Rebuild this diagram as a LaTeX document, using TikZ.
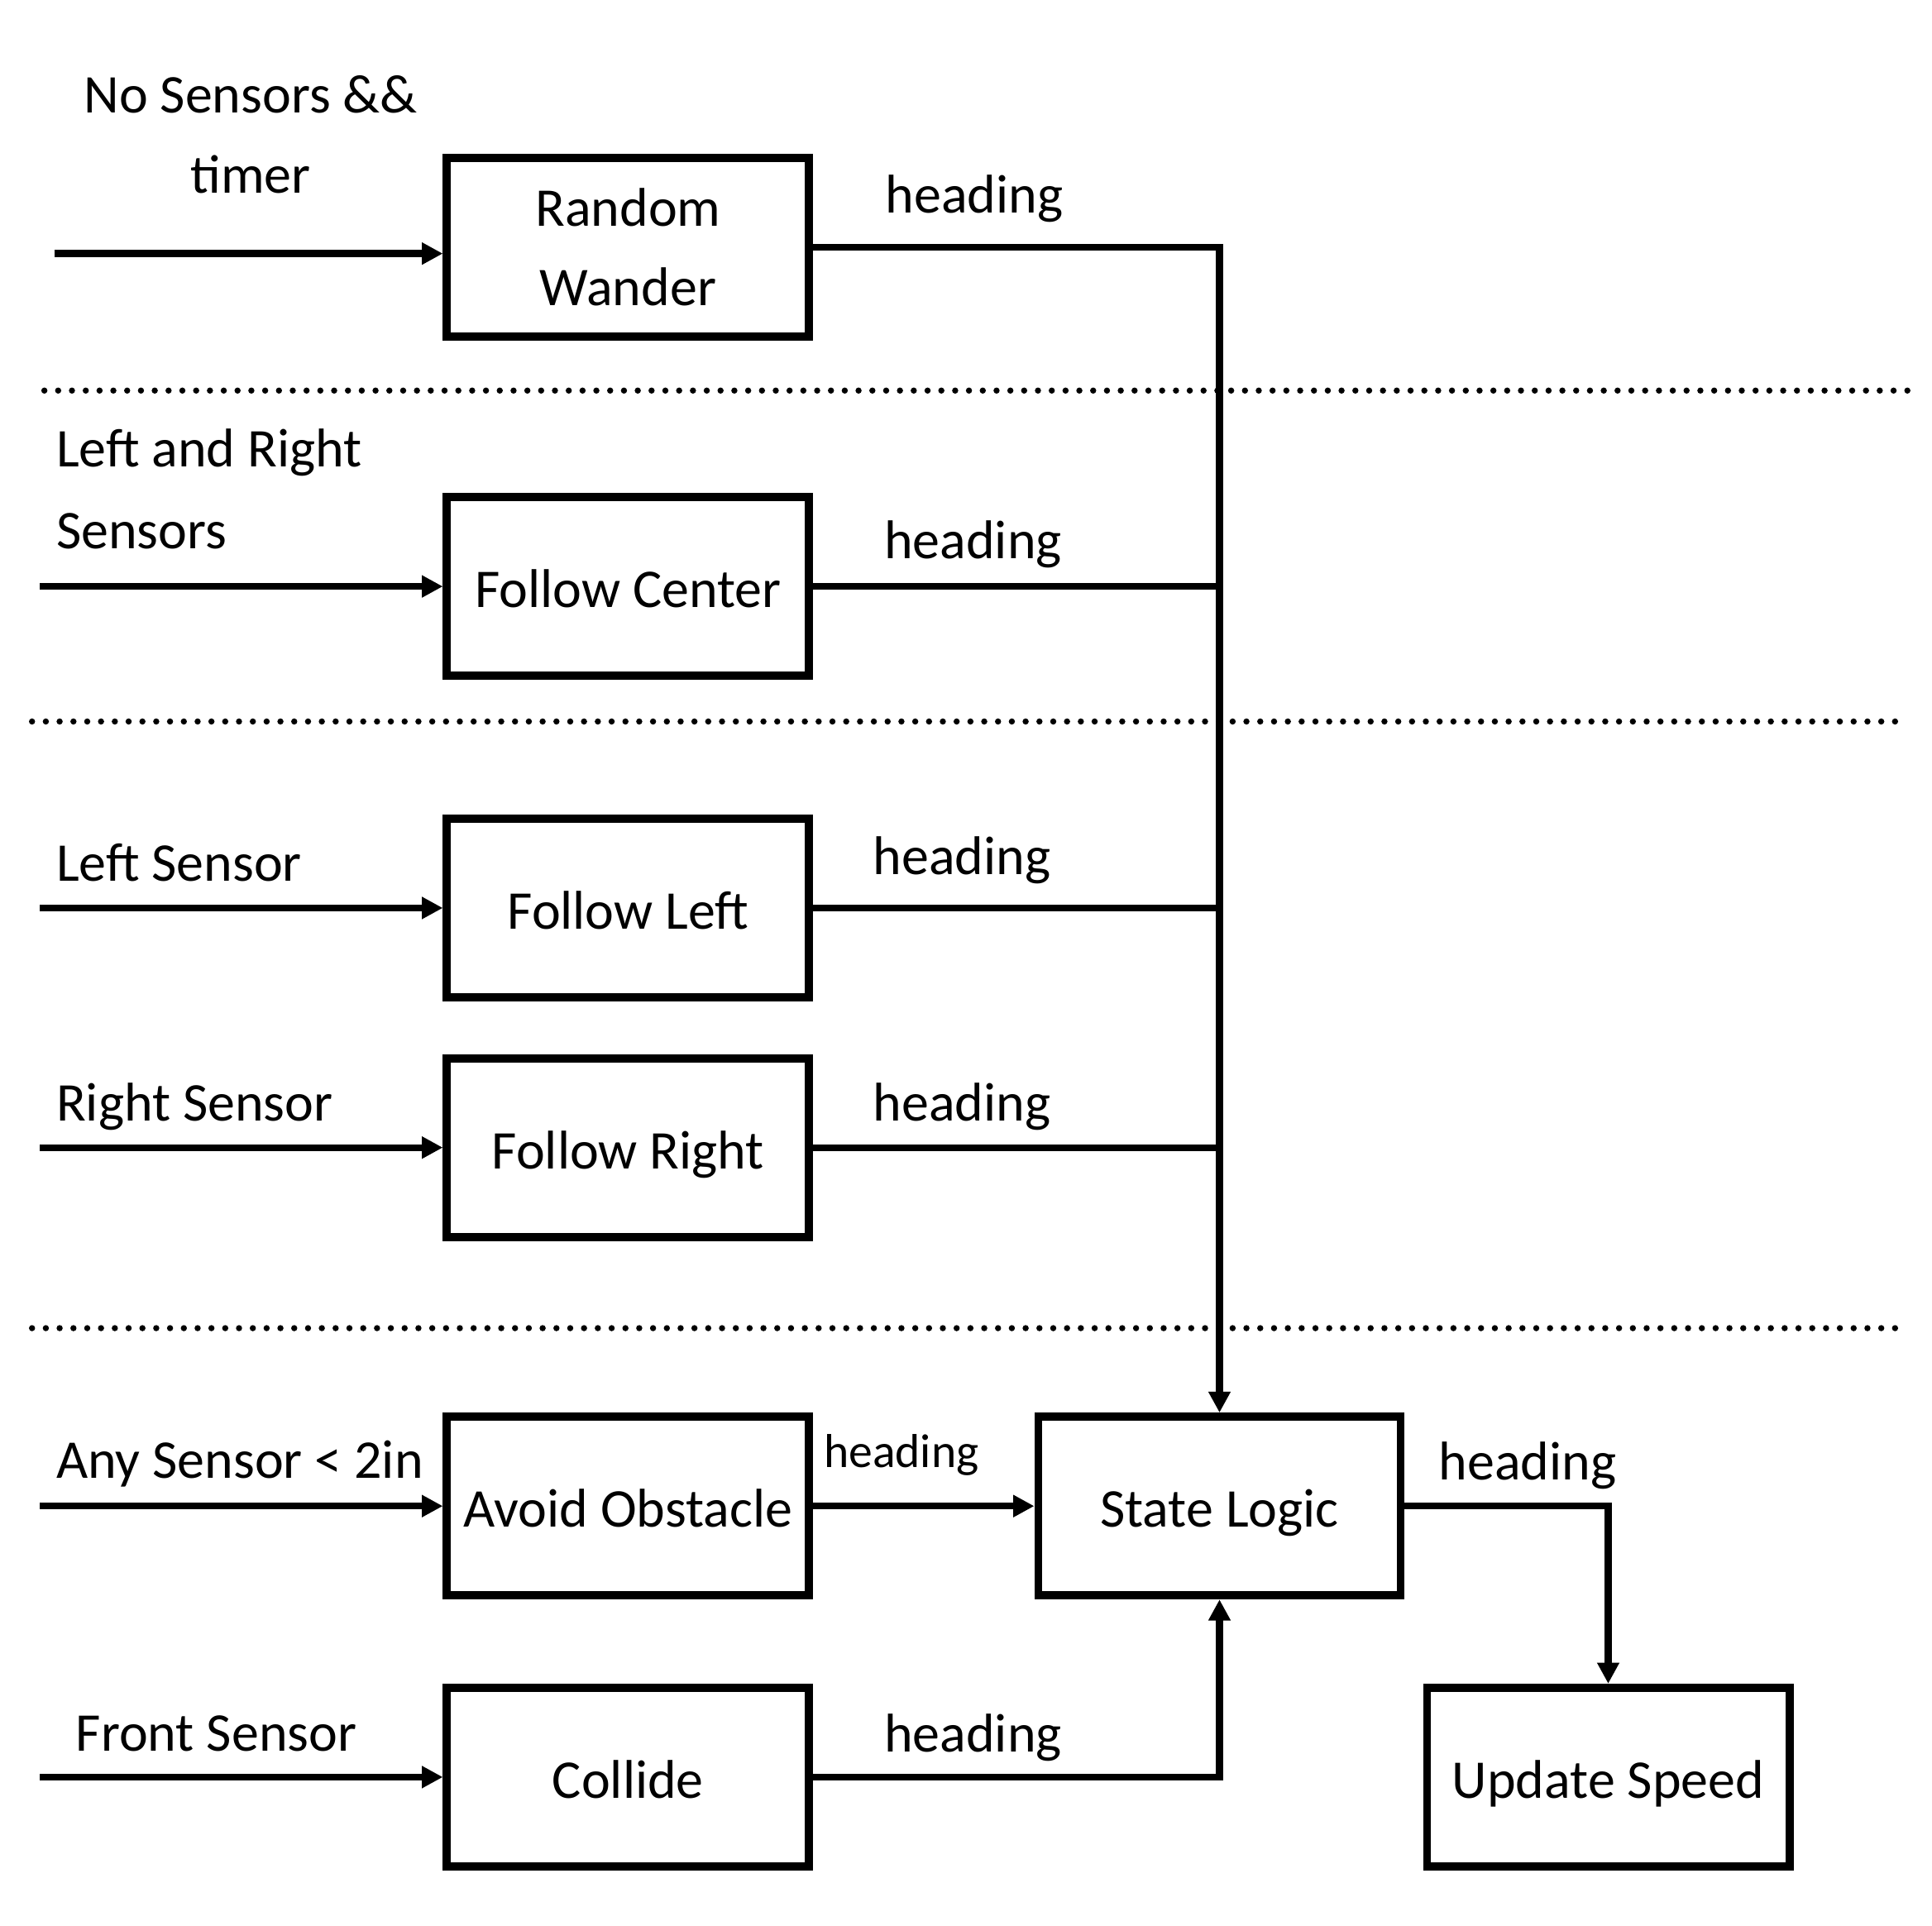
\documentclass[tikz,border=0pt]{standalone}
\usepackage{fontspec}
\setmainfont{Carlito}
\usetikzlibrary{arrows.meta,positioning,calc}
\tikzset{
  blk/.style={draw, line width=1.9pt, minimum width=29.4mm, minimum height=14.5mm,
              inner sep=0pt, align=center, font=\fontsize{12.6}{18.3}\selectfont},
  blkone/.style={blk, text height=12.5pt, text depth=2.8pt},
  wire/.style={line width=1.6pt},
  flow/.style={wire, -{Triangle[length=1.7mm,width=1.7mm]}},
  sep/.style={line width=0.5mm, line cap=round, dash pattern=on 0pt off 1.12mm},
  lbl/.style={inner sep=0pt, anchor=base west, font=\fontsize{12.6}{18.3}\selectfont},
  lblc/.style={lbl, anchor=base},
  lbls/.style={lbl, font=\fontsize{11}{13}\selectfont},
}

\begin{document}
\begin{tikzpicture}[node distance=5mm]
  \useasboundingbox (0,0) rectangle (15.68,-15.63);
  % behaviour boxes
  \node[blk] (rw) at (5.0975,-2.005) {Random\\Wander};
  \node[blkone, below=12.38mm of rw] (fc) {Follow Center};
  \node[blkone, below=10.93mm of fc] (fl) {Follow Left};
  \node[blkone, below=4.28mm of fl] (fr) {Follow Right};
  \node[blkone, below=13.93mm of fr] (ao) {Avoid Obstacle};
  \node[blkone, below=6.83mm of ao] (co) {Collide};
  \node[blkone, right=17.93mm of ao] (sl) {State Logic};
  \node[blkone, below right=6.83mm and 1.48mm of sl] (us) {Update Speed};

  % layer separators
  \draw[sep] (0.36,-3.17) -- (15.50,-3.17);
  \draw[sep] (0.26,-5.856) -- (15.40,-5.856);
  \draw[sep] (0.26,-10.78) -- (15.40,-10.78);

  % inputs
  \node[lblc] (in1a) at (2.035,-0.917) {No Sensors \&\&};
  \node[lblc] (in1b) at (2.035,-1.57) {timer};
  \node[lbl] (in2a) at (0.45,-3.79) {Left and Right};
  \node[lbl] (in2b) at (0.45,-4.452) {Sensors};
  \node[lbl] (in3) at (0.45,-7.15) {Left Sensor};
  \node[lbl] (in4) at (0.45,-9.10) {Right Sensor};
  \node[lbl] (in5) at (0.45,-12.00) {Any Sensor < 2in};
  \node[lbl] (in6) at (0.61,-14.21) {Front Sensor};

  \coordinate (rwin) at (0.44,-2.058);
  \draw[flow] (rwin) -- (rwin -| rw.west);
  \foreach \n in {fc,fl,fr,ao,co}
    \draw[flow] ($(\n.west)+(-3.27,0)$) -- (\n.west);

  % outputs
  \node[lbl] (h1) at (7.18,-1.727) {heading};
  \node[lbl] (h2) at (7.17,-4.537) {heading};
  \node[lbl] (h3) at (7.08,-7.096) {heading};
  \node[lbl] (h4) at (7.08,-9.097) {heading};
  \node[lbls] (h5) at (6.68,-11.91) {heading};
  \node[lbl] (h6) at (7.17,-14.217) {heading};
  \node[lbl] (h7) at (11.67,-12.009) {heading};

  \draw[flow] (rw.east) -| (sl.north);
  \foreach \n in {fc,fl,fr}
    \draw[wire] (\n.east) -- (\n.east -| sl.north);
  \draw[flow] (ao) -- (sl);
  \draw[flow] (co.east) -| (sl.south);
  \draw[flow] (sl.east) -| (us.north);
\end{tikzpicture}
\end{document}
